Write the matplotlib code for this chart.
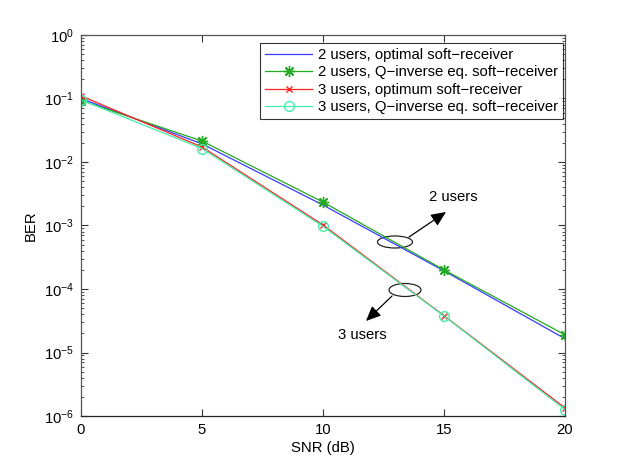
import matplotlib
matplotlib.use("Agg")
from matplotlib import pyplot as plt
from matplotlib.patches import Ellipse

plt.rcParams['font.family'] = ['Liberation Sans', 'DejaVu Sans']
plt.rcParams['mathtext.fontset'] = 'custom'
plt.rcParams['mathtext.rm'] = 'Liberation Sans'

snr = [0, 5, 10, 15, 20]
ber_2u_opt = [0.100, 0.0193, 0.0021, 1.93e-4, 1.65e-5]
ber_2u_qinv = [0.093, 0.0214, 0.00234, 2.0e-4, 1.9e-5]
ber_3u_opt = [0.110, 0.0172, 0.00102, 3.8e-5, 1.34e-6]
ber_3u_qinv = [0.095, 0.0163, 0.00097, 3.76e-5, 1.26e-6]

labels = ['2 users, optimal soft\u2212receiver',
          '2 users, Q\u2212inverse eq. soft\u2212receiver',
          '3 users, optimum soft\u2212receiver',
          '3 users, Q\u2212inverse eq. soft\u2212receiver']

W, H = 623, 469
X0, X1, Y0, Y1 = 81, 565, 416, 35


def af(px, py):
    # pixel position in the picture -> axes fraction
    return ((px - X0) / (X1 - X0), (Y0 - py) / (Y0 - Y1))


fig = plt.figure(figsize=(W / 100, H / 100), dpi=100)
ax = fig.add_axes([X0 / W, 1 - Y0 / H, (X1 - X0) / W, (Y0 - Y1) / H])

ax.semilogy(snr, ber_2u_opt, color='#3a3aff', lw=0.9, label=labels[0])
ax.semilogy(snr, ber_2u_qinv, color='#22aa22', lw=0.9, marker=(8, 2, 0),
            ms=8, mew=1.0, label=labels[1])
ax.semilogy(snr, ber_3u_opt, color='#ff2020', lw=0.9, marker='x', ms=5,
            label=labels[2])
ax.semilogy(snr, ber_3u_qinv, color='#44eeaa', lw=0.9, marker='o', ms=7,
            mfc='none', label=labels[3])

ax.set_xlim(0, 20)
ax.set_ylim(1e-6, 1)
ax.set_xticks([0, 5, 10, 15, 20])
ax.set_yticks([1e0, 1e-1, 1e-2, 1e-3, 1e-4, 1e-5, 1e-6])
ax.tick_params(which='both', direction='in', top=True, right=True,
               labelsize=10.7, colors='#333333', labelcolor='black')
ax.tick_params(which='major', length=5, pad=5)
ax.tick_params(which='minor', length=2.5)
for s in ax.spines.values():
    s.set_color('#555555')
    s.set_linewidth(0.9)
ax.spines['bottom'].set_color('#222222')

ax.set_xlabel('SNR (dB)', fontsize=10.7, labelpad=3)
ax.set_ylabel('BER', fontsize=10.7, labelpad=4)

leg = ax.legend(loc='upper right', bbox_to_anchor=af(563, 43),
                fontsize=10.7, frameon=True, fancybox=False,
                borderaxespad=0, handlelength=3.2, labelspacing=0.22,
                borderpad=0.35, handletextpad=0.35)
leg.get_frame().set_edgecolor('black')
leg.get_frame().set_linewidth(0.8)

# annotations
arrow = dict(arrowstyle='-|>,head_length=0.9,head_width=0.4',
             color='black', lw=0.9, shrinkA=0, shrinkB=0)

ax.add_patch(Ellipse(af(395, 242), 35 / (X1 - X0), 12 / (Y0 - Y1),
                     transform=ax.transAxes, fill=False, ec='#222222',
                     lw=0.9))
ax.annotate('', xy=af(446, 212), xytext=af(409, 237),
            xycoords='axes fraction', textcoords='axes fraction',
            arrowprops=arrow)
ax.text(*af(453, 197), '2 users', transform=ax.transAxes, fontsize=10.7,
        ha='center', va='center')

ax.add_patch(Ellipse(af(405, 290), 32 / (X1 - X0), 13 / (Y0 - Y1),
                     transform=ax.transAxes, fill=False, ec='#222222',
                     lw=0.9))
ax.annotate('', xy=af(366, 321), xytext=af(392, 296),
            xycoords='axes fraction', textcoords='axes fraction',
            arrowprops=arrow)
ax.text(*af(362, 335), '3 users', transform=ax.transAxes, fontsize=10.7,
        ha='center', va='center')

plt.savefig('out.png', dpi=100)
